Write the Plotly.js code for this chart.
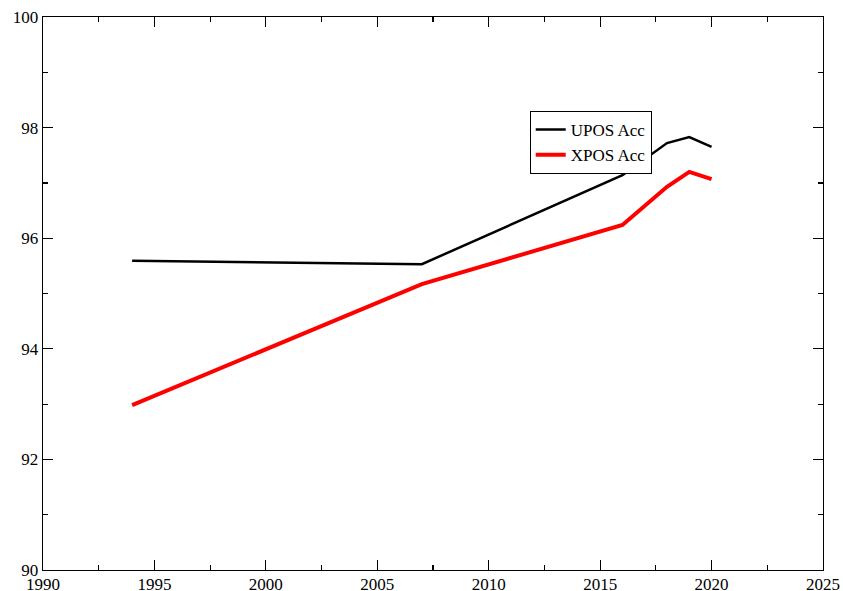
<!DOCTYPE html>
<html><head><meta charset="utf-8">
<script src="https://cdn.plot.ly/plotly-3.0.1.min.js"></script>
<style>html,body{margin:0;padding:0;background:#fff}#c{width:843px;height:591px}</style>
</head><body><div id="c"></div>
<script>
const years = [1994, 2007, 2016, 2018, 2019, 2020];
const upos = [95.59, 95.53, 97.14, 97.72, 97.83, 97.65];
const xpos = [92.98, 95.17, 96.24, 96.93, 97.20, 97.07];
const seriesNames = ['UPOS Acc', 'XPOS Acc'];

const serif = 'Liberation Serif, Times New Roman, serif';
const font = {family: serif, size: 17, color: '#000'};
const traces = [
  {x: years, y: upos, name: seriesNames[0], mode: 'lines', line: {color: '#000', width: 2.5}},
  {x: years, y: xpos, name: seriesNames[1], mode: 'lines', line: {color: '#ff0000', width: 4}}
];
function axis(extra) {
  return Object.assign({
    showgrid: false, zeroline: false, showline: true, linecolor: '#000', linewidth: 1.3,
    mirror: 'allticks', ticks: 'inside', ticklen: 10, tickwidth: 1.2, tickcolor: '#000',
    tickfont: {family: 'Times New Roman', size: 17, color: '#000'}
  }, extra);
}
const layout = {
  width: 843, height: 591,
  margin: {l: 43, r: 20, t: 17, b: 21},
  paper_bgcolor: '#fff', plot_bgcolor: '#fff',
  font: font,
  showlegend: true,
  legend: {x: 0.624, y: 0.83, xanchor: 'left', yanchor: 'top', bordercolor: '#000', borderwidth: 1,
    bgcolor: '#fff', font: {family: serif, size: 17, color: '#000'}, tracegroupgap: 0},
  xaxis: axis({range: [1990, 2025], dtick: 5, tick0: 1990, ticklabelstandoff: -2,
    minor: {ticks: 'inside', ticklen: 5, tickwidth: 1.2, tickcolor: '#000', dtick: 2.5}}),
  yaxis: axis({range: [90, 100], dtick: 2, tick0: 90,
    minor: {ticks: 'inside', ticklen: 5, tickwidth: 1.2, tickcolor: '#000', dtick: 1}})
};
Plotly.newPlot('c', traces, layout, {displayModeBar: false, staticPlot: true});
</script></body></html>
